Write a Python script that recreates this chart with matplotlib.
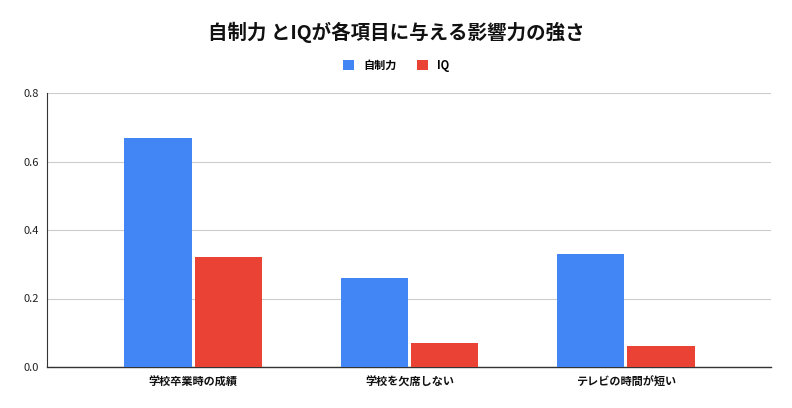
import numpy as np
import matplotlib
matplotlib.use('Agg')
import matplotlib.pyplot as plt

plt.rcParams['font.family'] = ['Noto Sans CJK JP', 'DejaVu Sans']

categories = ['学校卒業時の成績', '学校を欠席しない', 'テレビの時間が短い']
self_control = [0.67, 0.26, 0.33]
iq = [0.32, 0.07, 0.06]
series_names = ['自制力', 'IQ']
colors = ['#4285F4', '#EA4335']

fig = plt.figure(figsize=(7.92, 4.08), dpi=100)
ax = fig.add_axes([47 / 792, 1 - 367 / 408, (771 - 47) / 792, (367 - 93) / 408])

x = np.arange(len(categories))
w = 0.31
gap = 0.007
ax.bar(x - w / 2 - gap, self_control, w, color=colors[0], label=series_names[0], zorder=3)
ax.bar(x + w / 2 + gap, iq, w, color=colors[1], label=series_names[1], zorder=3)

ax.set_xlim(-0.675, 2.67)
ax.set_ylim(0, 0.8)
ax.set_yticks([0, 0.2, 0.4, 0.6, 0.8])
ax.set_yticklabels(['0.0', '0.2', '0.4', '0.6', '0.8'], fontsize=8, color='#222222')
ax.set_xticks(x)
ax.set_xticklabels(categories, fontsize=8, fontweight='bold', color='#111111')
ax.tick_params(axis='both', length=0)
ax.tick_params(axis='y', pad=6)
ax.tick_params(axis='x', pad=6)
ax.grid(axis='y', color='#cccccc', linewidth=0.8, zorder=0)
for s in ['top', 'right']:
    ax.spines[s].set_visible(False)
ax.spines['left'].set_color('#333333')
ax.spines['bottom'].set_color('#333333')
ax.spines['left'].set_linewidth(0.8)
ax.spines['bottom'].set_linewidth(1.0)

fig.text(0.5, 1 - 32 / 408, '自制力 とIQが各項目に与える影響力の強さ', ha='center', va='center',
         fontsize=14, fontweight='bold', color='#111111')
fig.legend(loc='center', bbox_to_anchor=(0.5, 1 - 65 / 408), ncol=2, frameon=False,
           prop={'size': 8, 'weight': 'bold'}, handlelength=1.0, handleheight=1.0,
           handletextpad=0.8, columnspacing=1.8)

fig.savefig('out.png', dpi=100)
